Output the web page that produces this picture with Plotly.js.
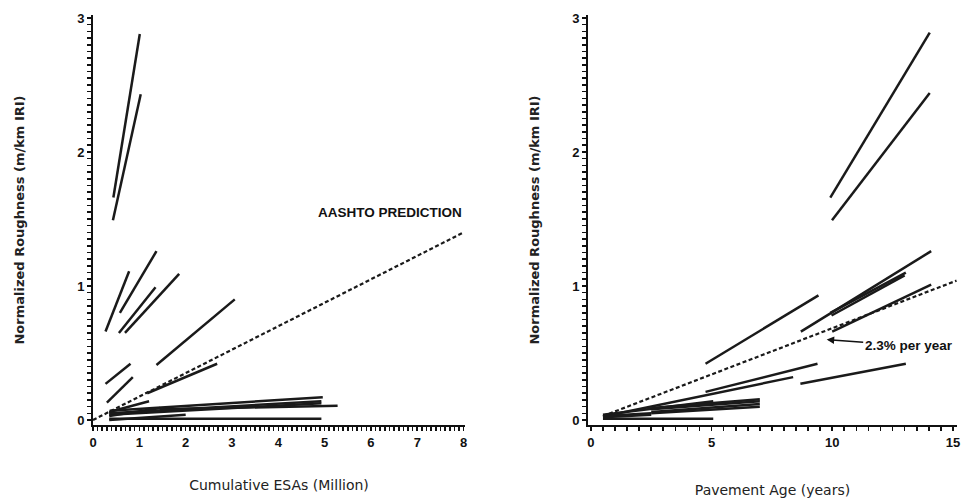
<!DOCTYPE html>
<html>
<head>
<meta charset="utf-8">
<script src="https://cdn.plot.ly/plotly-3.0.1.min.js"></script>
<style>html,body{margin:0;padding:0;background:#fff;}#chart{width:968px;height:498px;}</style>
</head>
<body>
<div id="chart"></div>
<script>
// Left panel: roughness vs cumulative ESAs (segments: start -> end)
const esaX0 = [0.44, 0.43, 0.27, 0.58, 0.56, 0.69, 1.37, 0.27, 0.30, 1.17, 0.35, 0.36, 0.35, 1.44, 0.35, 0.35, 0.35, 0.35];
const esaY0 = [1.66, 1.49, 0.66, 0.80, 0.65, 0.65, 0.41, 0.27, 0.13, 0.20, 0.06, 0.07, 0.04, 0.08, 0.01, 0.03, 0.00, 0.05];
const esaX1 = [1.01, 1.03, 0.78, 1.37, 1.35, 1.86, 3.06, 0.81, 0.86, 2.68, 1.21, 4.96, 4.93, 5.28, 4.93, 1.45, 2.00, 4.93];
const esaY1 = [2.88, 2.43, 1.11, 1.26, 0.99, 1.09, 0.90, 0.42, 0.32, 0.42, 0.14, 0.17, 0.125, 0.107, 0.01, 0.09, 0.04, 0.14];

// AASHTO prediction line
const aashtoX = [0, 8];
const aashtoY = [0, 1.40];

// Right panel: roughness vs pavement age (segments: start -> end)
const ageX0 = [9.92, 9.99, 4.75, 8.70, 9.92, 9.97, 10.0, 4.75, 0.60, 8.68, 0.50, 0.50, 0.50, 2.50, 2.50, 2.50, 2.50, 0.50];
const ageY0 = [1.66, 1.49, 0.42, 0.66, 0.80, 0.78, 0.66, 0.21, 0.03, 0.27, 0.04, 0.01, 0.03, 0.05, 0.06, 0.08, 0.09, 0.02];
const ageX1 = [14.04, 14.04, 9.43, 14.1, 13.05, 13.0, 14.1, 9.39, 8.38, 13.05, 5.07, 5.07, 2.50, 7.00, 7.00, 7.00, 7.00, 2.50];
const ageY1 = [2.89, 2.44, 0.93, 1.26, 1.10, 1.08, 1.01, 0.42, 0.32, 0.42, 0.14, 0.01, 0.05, 0.10, 0.12, 0.14, 0.155, 0.04];

// 2.3% per year line
const rateX = [0.5, 15.15];
const rateY = [0.03, 1.04];

// labelled ticks and the spacing of the small unlabelled ticks between them
const leftTicks = [0, 1, 2, 3, 4, 5, 6, 7, 8];
const rightTicks = [0, 5, 10, 15];
const yTicks = [0, 1, 2, 3];
const leftMinorStep = 0.1, rightMinorStep = 0.5, yMinorStep = 0.05;

const leftRange = [0, 8.03];
const rightRange = [-0.12, 15.17];
const yRange = [-0.037, 3.022];

function segs(x0, y0, x1, y1) {
  const xs = [], ys = [];
  for (let i = 0; i < x0.length; i++) {
    xs.push(x0[i], x1[i], null);
    ys.push(y0[i], y1[i], null);
  }
  return {xs, ys};
}
// all tick positions (labelled + small), labels only on the labelled ones
function tickSet(major, step) {
  const first = major[0], last = major[major.length - 1];
  const n = Math.round((last - first) / step);
  const vals = [], text = [];
  for (let i = 0; i <= n; i++) {
    const v = Math.round((first + i * step) * 1000) / 1000;
    vals.push(v);
    text.push(major.includes(v) ? String(v) : '');
  }
  return {tickmode: 'array', tickvals: vals, ticktext: text};
}
const L = segs(esaX0, esaY0, esaX1, esaY1);
const R = segs(ageX0, ageY0, ageX1, ageY1);

const lineStyle = {color: '#1a1a1a', width: 2.5};
const dashStyle = {color: '#1a1a1a', width: 2.2, dash: '4px,2.5px'};

const traces = [
  {x: L.xs, y: L.ys, xaxis: 'x', yaxis: 'y', mode: 'lines', line: lineStyle, connectgaps: false, hoverinfo: 'skip'},
  {x: aashtoX, y: aashtoY, xaxis: 'x', yaxis: 'y', mode: 'lines', line: dashStyle, hoverinfo: 'skip'},
  {x: R.xs, y: R.ys, xaxis: 'x2', yaxis: 'y2', mode: 'lines', line: lineStyle, connectgaps: false, hoverinfo: 'skip'},
  {x: rateX, y: rateY, xaxis: 'x2', yaxis: 'y2', mode: 'lines', line: dashStyle, hoverinfo: 'skip'}
];

const tickFont = {family: 'Liberation Sans, Arial, sans-serif', size: 13, color: '#111', weight: 'bold'};
const titleFont = {family: 'DejaVu Sans, sans-serif', size: 14, color: '#222'};
const yTitleFont = {family: 'DejaVu Sans, sans-serif', size: 13, color: '#222', weight: 'bold'};
const noteFont = {family: 'Liberation Sans, Arial, sans-serif', size: 13.5, color: '#111', weight: 'bold'};

const baseAxis = {
  showgrid: false, zeroline: false, showline: true, linecolor: '#111', linewidth: 2,
  ticks: 'outside', ticklen: 4, tickwidth: 1.6, tickcolor: '#111',
  tickfont: tickFont, automargin: false, fixedrange: true
};

const layout = {
  width: 968, height: 498,
  margin: {l: 0, r: 0, t: 0, b: 0},
  paper_bgcolor: '#fff', plot_bgcolor: '#fff',
  showlegend: false,
  xaxis: Object.assign({}, baseAxis, tickSet(leftTicks, leftMinorStep), {
    domain: [93/968, 465/968], range: leftRange, anchor: 'y',
    title: {text: 'Cumulative ESAs (Million)', font: titleFont, standoff: 32}
  }),
  yaxis: Object.assign({}, baseAxis, tickSet(yTicks, yMinorStep), {
    domain: [0.1466, 0.9699], range: yRange, anchor: 'x',
    title: {text: 'Normalized Roughness (m/km IRI)', font: yTitleFont, standoff: 50}
  }),
  xaxis2: Object.assign({}, baseAxis, tickSet(rightTicks, rightMinorStep), {
    domain: [588/968, 957/968], range: rightRange, anchor: 'y2',
    title: {text: 'Pavement Age (years)', font: titleFont, standoff: 37}
  }),
  yaxis2: Object.assign({}, baseAxis, tickSet(yTicks, yMinorStep), {
    domain: [0.1466, 0.9699], range: yRange, anchor: 'x2',
    title: {text: 'Normalized Roughness (m/km IRI)', font: yTitleFont, standoff: 30}
  }),
  annotations: [
    {xref: 'x', yref: 'y', x: 8.0, y: 1.55, xanchor: 'right', yanchor: 'middle', showarrow: false,
     text: 'AASHTO PREDICTION', font: noteFont},
    {xref: 'x2', yref: 'y2', x: 9.77, y: 0.60, ax: 82, ay: 6, showarrow: true, arrowhead: 2, arrowsize: 1, arrowwidth: 1.5, arrowcolor: '#111',
     text: '2.3% per year', xanchor: 'center', font: noteFont}
  ]
};

Plotly.newPlot('chart', traces, layout, {displayModeBar: false, staticPlot: true});
</script>
</body>
</html>
